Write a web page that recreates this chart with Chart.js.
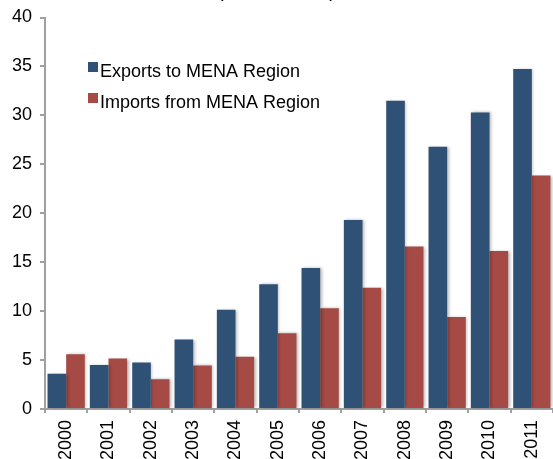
<!DOCTYPE html>
<html><head><meta charset="utf-8">
<script src="https://cdn.jsdelivr.net/npm/chart.js@4.4.0/dist/chart.umd.min.js"></script>
<style>
html,body{margin:0;padding:0;background:#fff;}
#wrap{position:relative;width:553px;height:459px;overflow:hidden;}
#c{position:absolute;left:0;top:-30px;}
</style></head><body>
<div id="wrap"><canvas id="c" width="553" height="489"></canvas></div>
<script>
const years = ['2000','2001','2002','2003','2004','2005','2006','2007','2008','2009','2010','2011'];
const exportsToMENA = [3.6, 4.5, 4.75, 7.1, 10.15, 12.75, 14.4, 19.3, 31.5, 26.8, 30.3, 34.75];
const importsFromMENA = [5.6, 5.15, 3.05, 4.45, 5.35, 7.75, 10.3, 12.4, 16.6, 9.4, 16.15, 23.85];
const seriesNames = ['Exports to MENA Region', 'Imports from MENA Region'];
const titleText = '(US$ billions)';
const yMin = 0, yMax = 40, yStep = 5;

const FONT = '"Liberation Sans", Arial, Helvetica, sans-serif';
const BLUE = '#2F5175';
const RED = '#A54A44';
const AXIS = '#A0A0A0';

const innerLegend = {
  id: 'innerLegend',
  afterDraw(chart) {
    const ctx = chart.ctx;
    ctx.save();
    ctx.font = '18px ' + FONT;
    ctx.textBaseline = 'alphabetic';
    ctx.textAlign = 'left';
    chart.data.datasets.forEach((ds, i) => {
      const top = 92 + i * 31;
      ctx.fillStyle = ds.backgroundColor;
      ctx.fillRect(88, top, 10, 10);
      ctx.fillStyle = '#000';
      ctx.fillText(ds.label, 100, top + 14.7);
    });
    ctx.restore();
  }
};

const barShadow = {
  id: 'barShadow',
  beforeDatasetsDraw(chart) {
    const ctx = chart.ctx;
    ctx.save();
    ctx.shadowColor = 'rgba(0,0,0,0.28)';
    ctx.shadowBlur = 3;
    ctx.shadowOffsetX = 1.5;
    ctx.shadowOffsetY = 0;
  },
  afterDatasetsDraw(chart) {
    chart.ctx.restore();
  }
};

new Chart(document.getElementById('c'), {
  type: 'bar',
  data: {
    labels: years,
    datasets: [
      { label: seriesNames[0], data: exportsToMENA, backgroundColor: BLUE, categoryPercentage: 0.88, barPercentage: 1.0 },
      { label: seriesNames[1], data: importsFromMENA, backgroundColor: RED, categoryPercentage: 0.88, barPercentage: 1.0 }
    ]
  },
  options: {
    responsive: false,
    animation: false,
    layout: { padding: { left: 0, right: 0, top: 0, bottom: 0 } },
    plugins: {
      legend: { display: false },
      tooltip: { enabled: false },
      title: {
        display: true,
        text: titleText,
        color: '#000',
        font: { family: FONT, size: 20, weight: 'normal' },
        padding: { top: 9, bottom: 14.5 }
      }
    },
    scales: {
      x: {
        offset: true,
        grid: { drawOnChartArea: false, drawTicks: true, tickLength: 4, color: AXIS, lineWidth: 2, offset: true },
        border: { display: true, color: AXIS, width: 2 },
        ticks: { color: '#000', font: { family: FONT, size: 18 }, minRotation: 90, maxRotation: 90, padding: 7, autoSkip: false },
        afterFit(s) { s.height = 50; s.paddingLeft = 0; s.paddingRight = 0; }
      },
      y: {
        min: yMin, max: yMax,
        grid: { drawOnChartArea: false, drawTicks: true, tickLength: 5, color: AXIS, lineWidth: 2 },
        border: { display: true, color: AXIS, width: 2 },
        ticks: { stepSize: yStep, color: '#000', font: { family: FONT, size: 18 }, padding: 8 },
        afterFit(s) { s.width = 45; }
      }
    }
  },
  plugins: [barShadow, innerLegend]
});
</script>
</body></html>
